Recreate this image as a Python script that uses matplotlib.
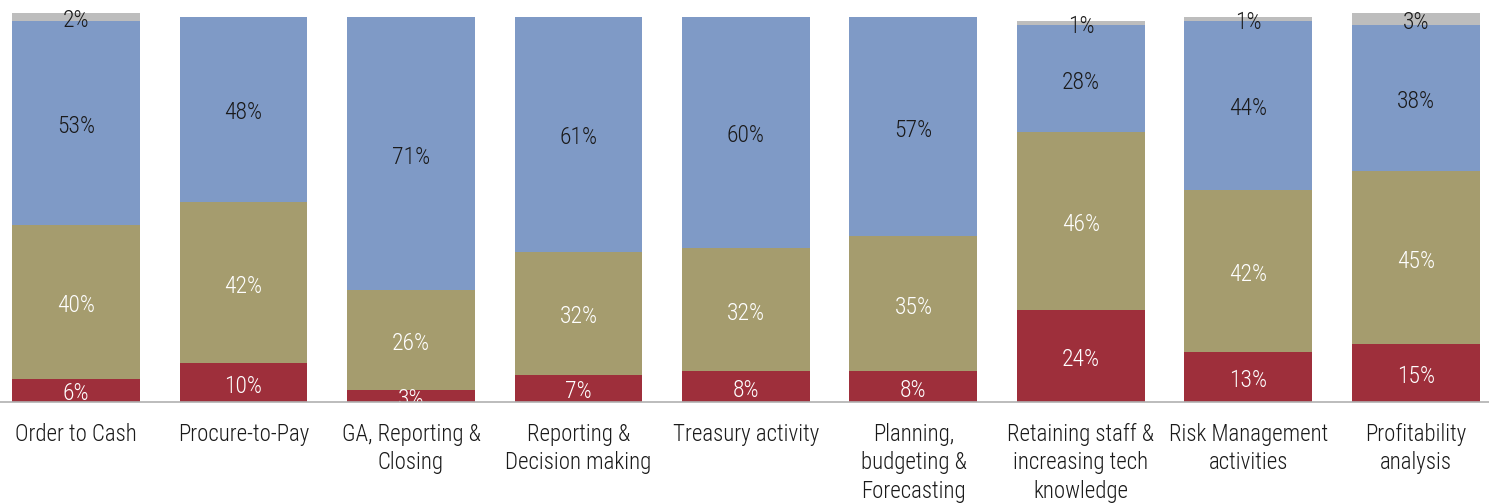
import matplotlib
matplotlib.use("Agg")
import matplotlib.pyplot as plt
import matplotlib.transforms as mtransforms
import numpy as np

plt.rcParams['font.family'] = ['Roboto Condensed', 'DejaVu Sans']
plt.rcParams['font.weight'] = 300

categories = [
    "Order to Cash",
    "Procure-to-Pay",
    "GA, Reporting &\nClosing",
    "Reporting &\nDecision making",
    "Treasury activity",
    "Planning,\nbudgeting &\nForecasting",
    "Retaining staff &\nincreasing tech\nknowledge",
    "Risk Management\nactivities",
    "Profitability\nanalysis",
]
red_vals = [6, 10, 3, 7, 8, 8, 24, 13, 15]
olive_vals = [40, 42, 26, 32, 32, 35, 46, 42, 45]
blue_vals = [53, 48, 71, 61, 60, 57, 28, 44, 38]
grey_vals = [2, 0, 0, 0, 0, 0, 1, 1, 3]

series = [
    (red_vals, "#9E2F3B", "white"),
    (olive_vals, "#A59C6E", "white"),
    (blue_vals, "#7F9AC6", "#1a1a1a"),
    (grey_vals, "#BDBDBD", "#1a1a1a"),
]

fig = plt.figure(figsize=(14.89, 5.03), dpi=100)
ax = fig.add_axes([0, 1 - 402 / 503, 1, 402 / 503])

# value labels sit a touch below the geometric middle of each segment
label_tf = mtransforms.offset_copy(ax.transData, fig=fig, x=0, y=-2.5, units="points")

x = np.arange(len(categories))
bottom = np.zeros(len(categories))
for vals, color, tcolor in series:
    vals = np.array(vals, dtype=float)
    ax.bar(x, vals, width=0.764, bottom=bottom, color=color, edgecolor="none", zorder=2)
    for xi, b, v in zip(x, bottom, vals):
        if v > 0:
            ax.text(xi, b + v / 2, f"{int(v)}%", ha="center", va="center",
                    fontsize=17, fontweight=300, color=tcolor, clip_on=True,
                    zorder=3, transform=label_tf)
    bottom += vals

ax.set_xlim(-0.4537, 8.436)
ax.set_ylim(0, 104.4)
ax.set_xticks(x)
ax.set_xticklabels(categories, fontsize=16.5, fontweight=300, color="#1a1a1a", linespacing=1.3)
ax.tick_params(axis="x", length=0, pad=15)
ax.set_yticks([])
for s in ["top", "left", "right"]:
    ax.spines[s].set_visible(False)
ax.spines["bottom"].set_color("#B0B0B0")
ax.spines["bottom"].set_linewidth(1.2)
ax.spines["bottom"].set_zorder(4)

fig.savefig("out.png", dpi=100)
